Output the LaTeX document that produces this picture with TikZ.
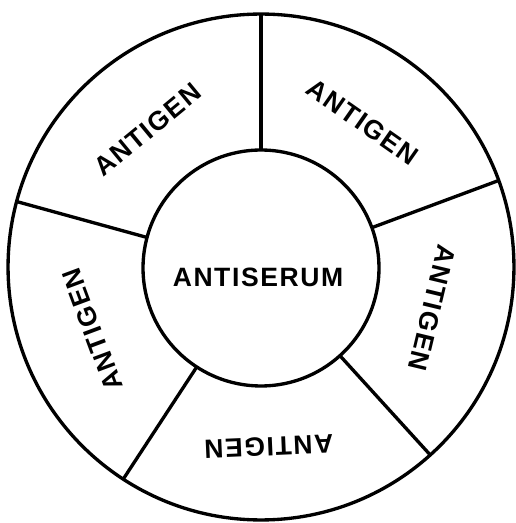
\documentclass[tikz,border=0pt]{standalone}
\usepackage{fontspec}
\setmainfont[LetterSpace=6]{Liberation Sans}
\usetikzlibrary{positioning}

\begin{document}
\begin{tikzpicture}[x=0.02cm,y=0.02cm,
    line width=1.9pt,
    every node/.style={font=\fontsize{15.1}{18}\selectfont\bfseries},
    ring/.style={draw,circle,inner sep=0pt,outer sep=0pt},
    sector/.style={inner sep=0pt}
  ]
    \useasboundingbox (-261,-256) rectangle (254,267);
    \node[ring,minimum size=10.12cm] (plate) at (0,0) {};
    \node[ring,minimum size=4.72cm] (well) at (0,-1) {};
    \node (serum) at (-3,-10.5) {ANTISERUM};
    \node[sector,rotate=39.5] (agA) at (129.5:178) {ANTIGEN};
    \node[sector,rotate=-35] (agB) at (55:177) {ANTIGEN};
    \node[sector,rotate=-103.5] (agC) at (-13.5:176) {ANTIGEN};
    \node[sector,rotate=-177.5] (agD) at (-87.5:180) {ANTIGEN};
    \node[sector,rotate=110.4] (agE) at (200.4:180) {ANTIGEN};
    \draw (well.90) -- (plate.90);
    \draw (well.20) -- (plate.20);
    \draw (well.-48) -- (plate.-48);
    \draw (well.237) -- (plate.237);
    \draw (well.165) -- (plate.165);
  \end{tikzpicture}
\end{document}
